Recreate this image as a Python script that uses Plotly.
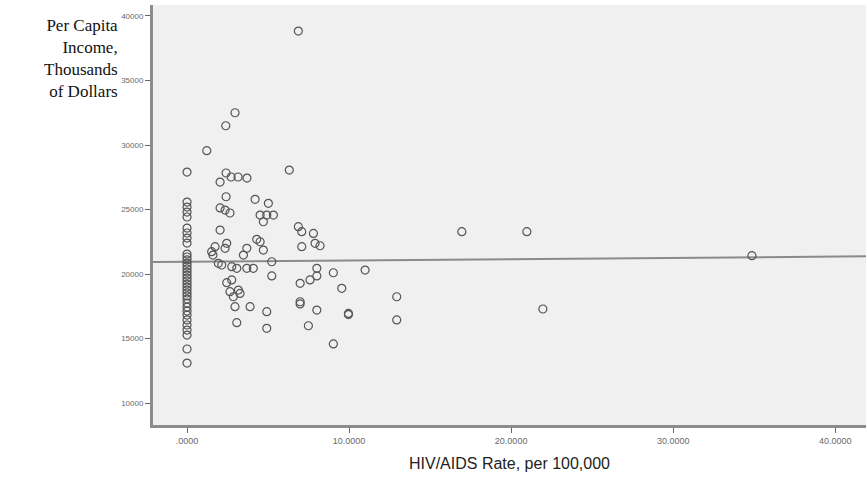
import plotly.graph_objects as go
import numpy as np

# HIV/AIDS rate per 100,000 (x) and per capita income in dollars (y)
zero_rate_income = [27900, 25580, 25190, 24800, 24420, 23560, 23180, 22790, 22400,
                    21550, 21320, 21090, 20850, 20620, 20390, 20150, 19920, 19690,
                    19460, 19220, 18990, 18760, 18530, 18300, 18060, 17750, 17440,
                    17130, 16820, 16440, 16050, 15660, 15270, 14190, 13100]

rate = [1.22, 2.96, 2.39, 2.41, 2.04, 2.72, 3.15, 3.70, 6.87, 6.31,
        2.41, 2.04, 2.35, 2.65, 2.04, 1.73, 2.45, 2.35, 1.52, 1.60,
        3.69, 3.48, 4.20, 5.02, 4.51, 4.92, 5.33, 4.71, 4.30, 4.51,
        4.71, 1.93, 2.14, 2.76, 3.07, 3.69, 4.09, 5.23, 5.23, 2.45,
        2.76, 2.65, 3.17, 2.86, 3.27, 2.96, 3.89, 3.07, 4.92, 4.92,
        6.87, 7.08, 7.80, 7.08, 7.90, 8.21, 8.01, 9.03, 10.99, 6.98,
        7.59, 8.01, 9.55, 12.94, 6.98, 6.98, 8.01, 9.96, 9.96, 12.94,
        7.49, 9.03, 16.96, 20.97, 34.86, 21.96]
income = [29560, 32500, 31490, 27830, 27130, 27520, 27520, 27440, 38830, 28060,
          25990, 25120, 24960, 24730, 23410, 22120, 22380, 21990, 21730, 21470,
          21990, 21470, 25790, 25480, 24570, 24570, 24570, 24050, 22690, 22500,
          21860, 20830, 20700, 20570, 20440, 20440, 20440, 20950, 19850, 19330,
          19540, 18630, 18760, 18240, 18500, 17470, 17470, 16230, 17080, 15790,
          23670, 23280, 23150, 22120, 22380, 22190, 20440, 20100, 20310, 19280,
          19540, 19850, 18890, 18240, 17850, 17680, 17210, 16950, 16860, 16440,
          15990, 14580, 23280, 23280, 21420, 17290]

fit_intercept = 20950
fit_slope = 10.0

x_ticks = [0, 10, 20, 30, 40]
x_tick_labels = [".0000", "10.0000", "20.0000", "30.0000", "40.0000"]
y_ticks = [10000, 15000, 20000, 25000, 30000, 35000, 40000]
y_tick_labels = ["10000", "15000", "20000", "25000", "30000", "35000", "40000"]

x_range = [-2.1, 41.9]
y_range = [8300, 40850]

all_x = [0.0] * len(zero_rate_income) + rate
all_y = zero_rate_income + income

fig = go.Figure()
fit_x = np.array(x_range)
fig.add_trace(go.Scatter(x=fit_x, y=fit_intercept + fit_slope * fit_x, mode="lines",
                         line=dict(color="#8a8a8a", width=2), hoverinfo="skip",
                         showlegend=False))
fig.add_trace(go.Scatter(x=all_x, y=all_y, mode="markers",
                         marker=dict(symbol="circle-open", size=8, color="#555555",
                                     line=dict(color="#555555", width=1.2)),
                         showlegend=False))

fig.update_layout(
    width=867, height=479, autosize=False,
    margin=dict(l=153, r=1, t=5, b=54),
    paper_bgcolor="white",
    plot_bgcolor="#f0f0f0",
    font=dict(family="Liberation Sans, Arial", color="#333"),
    xaxis=dict(range=x_range, tickvals=x_ticks, ticktext=x_tick_labels,
               showgrid=False, zeroline=False, showline=True, linecolor="#8c8c8c",
               linewidth=3, ticks="outside", ticklen=5, tickcolor="#666",
               tickfont=dict(size=9, color="#6a6a6a"),
               title=dict(text="HIV/AIDS Rate, per 100,000",
                          font=dict(size=16, color="#222", family="Liberation Sans, Arial"),
                          standoff=14)),
    yaxis=dict(range=y_range, tickvals=y_ticks, ticktext=y_tick_labels,
               showgrid=False, zeroline=False, showline=True, linecolor="#8c8c8c",
               linewidth=3, ticks="outside", ticklen=5, tickcolor="#666",
               tickfont=dict(size=8, color="#6a6a6a")),
    annotations=[dict(text="Per Capita<br>Income,<br>Thousands<br>of Dollars",
                      xref="paper", yref="paper", x=0, y=1, xshift=-33, yshift=-9,
                      xanchor="right", yanchor="top", align="right", showarrow=False,
                      font=dict(family="Liberation Serif, Times New Roman", size=17,
                                color="#111"))],
)

fig.write_html("out.html", config={"displayModeBar": False},
               post_script="document.body.style.margin='0px';")
